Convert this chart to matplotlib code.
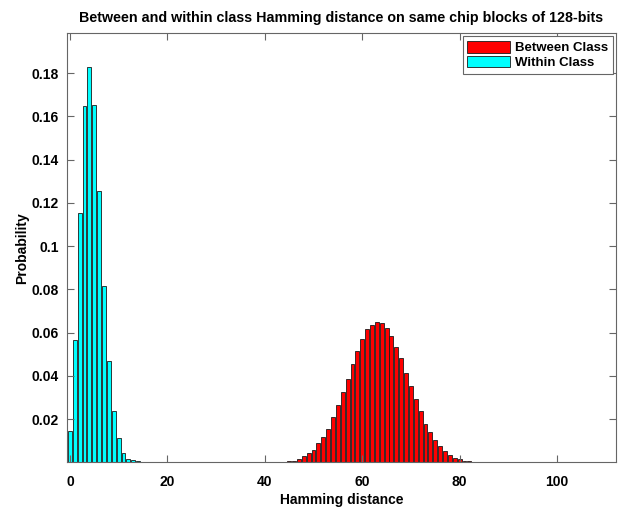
import matplotlib.pyplot as plt
from matplotlib.patches import Patch

plt.rcParams["font.family"] = ["Liberation Sans", "DejaVu Sans"]

# within class hamming distance (0..19)
within_hd = list(range(0, 20))
within_prob = [0.0144, 0.0564, 0.1154, 0.1647, 0.1828, 0.1652, 0.1254, 0.0818,
               0.0468, 0.0237, 0.0111, 0.0046, 0.0018, 0.0010, 0.0005, 0.0003,
               0.0002, 0.0001, 0.00006, 0.00003]

# between class hamming distance (34..92)
between_hd = list(range(34, 93))
between_prob = [0.00003, 0.00003, 0.00004, 0.00004, 0.00005, 0.00006, 0.00008,
                0.0001, 0.00013, 0.0002, 0.0003,
                0.0005, 0.0009, 0.0017, 0.0028, 0.0043, 0.0060, 0.0088, 0.0120,
                0.0157, 0.0210, 0.0267, 0.0328, 0.0387, 0.0453, 0.0516, 0.0569,
                0.0617, 0.0637, 0.0649, 0.0644, 0.0621, 0.0586, 0.0535, 0.0484,
                0.0415, 0.0355, 0.0294, 0.0237, 0.0180, 0.0142, 0.0103, 0.0074,
                0.0054, 0.0035, 0.0023, 0.0015, 0.0008, 0.0005, 0.0003, 0.0002,
                0.00015, 0.0001, 0.00008, 0.00006, 0.00005, 0.00004, 0.00003,
                0.00003]

x_ticks = [0, 20, 40, 60, 80, 100]
y_ticks = [0.02, 0.04, 0.06, 0.08, 0.10, 0.12, 0.14, 0.16, 0.18]
y_labels = ["0.02", "0.04", "0.06", "0.08", "0.1", "0.12", "0.14", "0.16", "0.18"]

fig = plt.figure(figsize=(6.18, 5.08), dpi=100)
ax = fig.add_axes([0.1084, 0.0896, 0.8884, 0.8454])

ax.bar(between_hd, between_prob, width=0.8, color="#ff0000",
       edgecolor="#1a1a1a", linewidth=0.6, label="Between Class")
ax.bar(within_hd, within_prob, width=0.8, color="#00ffff",
       edgecolor="#1a1a1a", linewidth=0.6, label="Within Class")

ax.set_xlim(-0.6, 112.1)
ax.set_ylim(0, 0.1985)
ax.set_xticks(x_ticks)
ax.set_yticks(y_ticks)
ax.set_yticklabels(y_labels)

axis_col = "#666666"
for sp in ax.spines.values():
    sp.set_color(axis_col)
    sp.set_linewidth(0.8)
ax.tick_params(direction="in", length=5, width=0.8, color=axis_col,
               top=True, right=True, labelsize=10)
ax.tick_params(axis="x", pad=9)
ax.tick_params(axis="y", pad=6)
for lab in ax.get_xticklabels() + ax.get_yticklabels():
    lab.set_fontweight("bold")

ax.set_xlabel("Hamming distance", fontsize=10, fontweight="bold", labelpad=3)
ax.set_ylabel("Probability", fontsize=10, fontweight="bold", labelpad=2)
ax.set_title("Between and within class Hamming distance on same chip blocks of 128-bits",
             fontsize=10.3, fontweight="bold", pad=8)

handles = [Patch(facecolor="#ff0000", edgecolor="#1a1a1a", linewidth=0.6),
           Patch(facecolor="#00ffff", edgecolor="#1a1a1a", linewidth=0.6)]
leg = ax.legend(handles, ["Between Class", "Within Class"], loc="upper right",
                prop={"weight": "bold", "size": 9.5}, fancybox=False,
                borderaxespad=0.25, handlelength=3.2, handleheight=1.0,
                handletextpad=0.4, labelspacing=0.1, borderpad=0.35)
leg.get_frame().set_edgecolor(axis_col)
leg.get_frame().set_linewidth(0.8)
leg.get_frame().set_alpha(1)

fig.savefig("out.png", dpi=100)
